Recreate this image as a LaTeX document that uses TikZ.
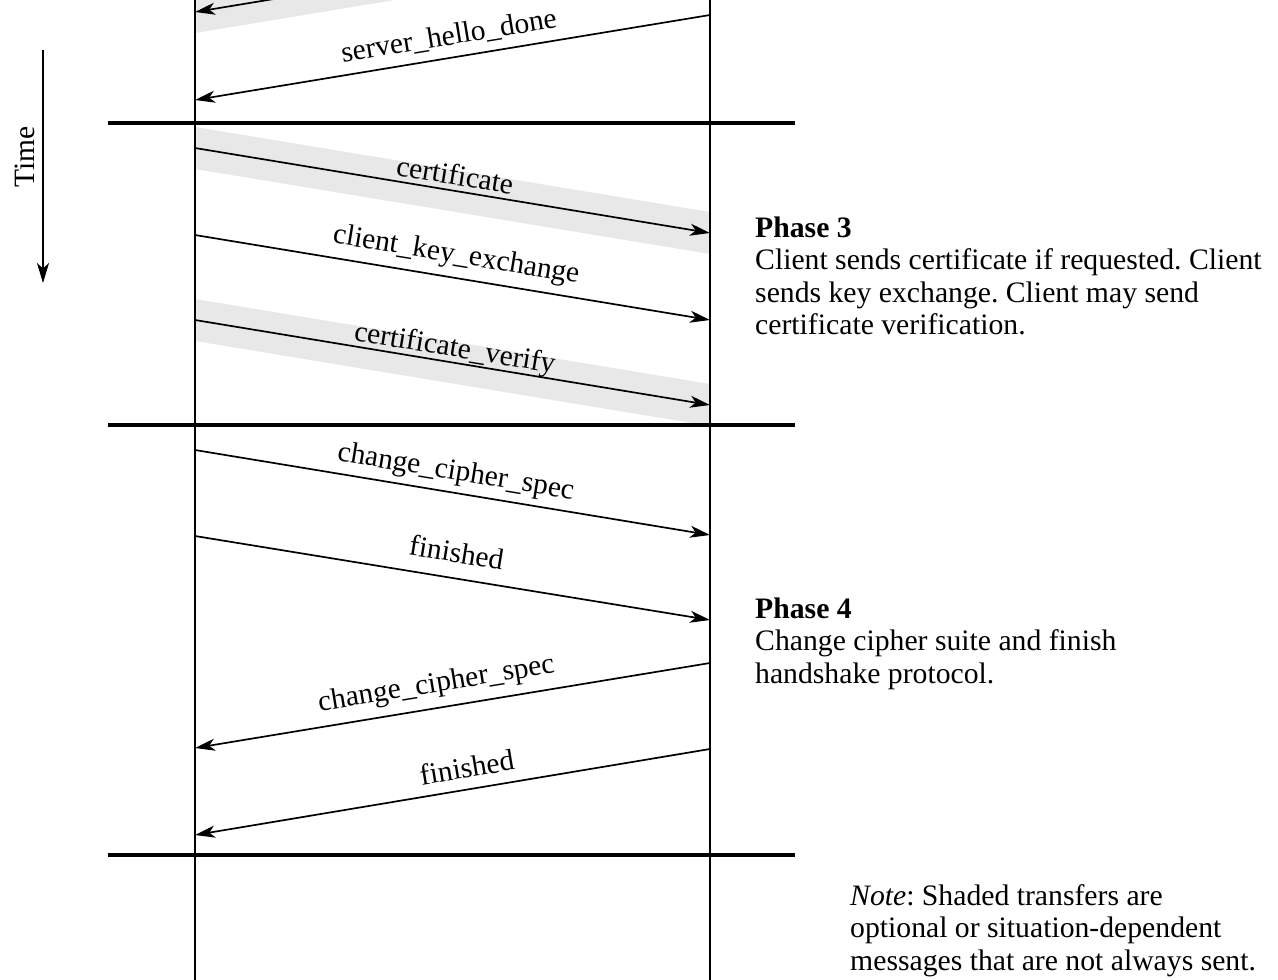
\documentclass[tikz,border=0pt]{standalone}
\usepackage{fontspec}
\setmainfont{Liberation Serif}
\usetikzlibrary{arrows.meta}
\frenchspacing
\begin{document}
\begin{tikzpicture}[x=1pt,y=-1pt,
  lifeline/.style={line width=1.9pt},
  phaseline/.style={line width=3.2pt},
  msg/.style={line width=1.7pt,-{Stealth[length=20pt,width=12pt,inset=5.5pt]}},
  band/.style={fill=black!9,draw=none},
  lbl/.style={sloped,inner sep=0pt,text depth=0pt,font=\fontsize{29.5}{32.5}\selectfont},
  info/.style={anchor=base west,align=left,inner sep=0pt,font=\fontsize{29.7}{32.5}\selectfont}]
\useasboundingbox (0,0) rectangle (1278,980);
\begin{scope}
\clip (0,0) rectangle (1278,980);
% message end points on the client (left) and server (right) lifelines
\coordinate (s0) at (710,-73);  \coordinate (c0) at (195,12);
\coordinate (s1) at (710,15);   \coordinate (c1) at (195,100);
\coordinate (c2) at (195,148);  \coordinate (s2) at (710,233);
\coordinate (c3) at (195,235);  \coordinate (s3) at (710,320);
\coordinate (c4) at (195,320);  \coordinate (s4) at (710,405);
\coordinate (c5) at (195,450);  \coordinate (s5) at (710,535);
\coordinate (c6) at (195,536);  \coordinate (s6) at (710,620);
\coordinate (s7) at (710,663);  \coordinate (c7) at (195,748);
\coordinate (s8) at (710,749);  \coordinate (c8) at (195,835);
% shading behind optional messages
\fill[band] ([yshift=-21pt]c0) -- ([yshift=-21pt]s0) -- ([yshift=21pt]s0) -- ([yshift=21pt]c0) -- cycle;
\fill[band] ([yshift=-21pt]c2) -- ([yshift=-21pt]s2) -- ([yshift=21pt]s2) -- ([yshift=21pt]c2) -- cycle;
\fill[band] ([yshift=-21pt]c4) -- ([yshift=-21pt]s4) -- ([yshift=21pt]s4) -- ([yshift=21pt]c4) -- cycle;
% lifelines
\coordinate (cTop) at (195,0); \coordinate (cBot) at (195,980);
\coordinate (sTop) at (710,0); \coordinate (sBot) at (710,980);
\draw[lifeline] (cTop) -- (cBot);
\draw[lifeline] (sTop) -- (sBot);
% phase separators
\coordinate (p1a) at (108,123); \coordinate (p1b) at (795,123);
\coordinate (p2a) at (108,425); \coordinate (p2b) at (795,425);
\coordinate (p3a) at (108,855); \coordinate (p3b) at (795,855);
\draw[phaseline] (p1a) -- (p1b);
\draw[phaseline] (p2a) -- (p2b);
\draw[phaseline] (p3a) -- (p3b);
% messages
\draw[msg] (s0) -- (c0);
\draw[msg] (s1) -- node[lbl,above=12pt] (l1) {server\_hello\_done} (c1);
\draw[msg] (c2) -- node[lbl,above=5pt] (l2) {certificate} (s2);
\draw[msg] (c3) -- node[lbl,above=14pt] (l3) {client\_key\_exchange} (s3);
\draw[msg] (c4) -- node[lbl,above=5pt] (l4) {certificate\_verify} (s4);
\draw[msg] (c5) -- node[lbl,above=12pt] (l5) {change\_cipher\_spec} (s5);
\draw[msg] (c6) -- node[lbl,above=15pt] (l6) {finished} (s6);
\draw[msg] (s7) -- node[lbl,pos=0.524,above=15pt] (l7) {change\_cipher\_spec} (c7);
\draw[msg] (s8) -- node[lbl,pos=0.465,above=11pt] (l8) {finished} (c8);
\end{scope}
% time axis
\coordinate (tA) at (43,50); \coordinate (tB) at (43,283);
\draw[msg] (tA) -- (tB);
\node[rotate=90,inner sep=0pt,font=\fontsize{29.5}{32.5}\selectfont] (time) at (25,157) {Time};
% phase descriptions (anchored at the baseline of their last line)
\node[info] (ph3) at (755,334.5) {\textbf{Phase 3}\\Client sends certificate if requested. Client\\sends key exchange. Client may send\\certificate verification.};
\node[info] (ph4) at (755,683) {\textbf{Phase 4}\\Change cipher suite and finish\\handshake protocol.};
\node[info] (note) at (850,970) {\textit{Note}: Shaded transfers are\\optional or situation-dependent\\messages that are not always sent.};
\end{tikzpicture}
\end{document}
